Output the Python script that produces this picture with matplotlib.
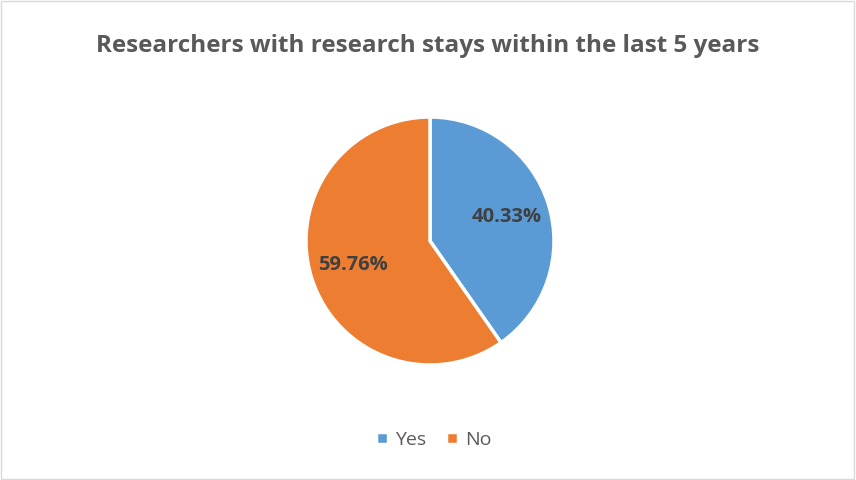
import matplotlib.pyplot as plt
from matplotlib.patches import Rectangle

labels = ["Yes", "No"]
values = [40.33, 59.76]
colors = ["#5B9BD5", "#ED7D31"]
title = "Researchers with research stays within the last 5 years"

plt.rcParams['font.family'] = ['Open Sans', 'DejaVu Sans']

fig = plt.figure(figsize=(8.56, 4.8), dpi=100)
fig.patches.append(Rectangle((0.001, 0.002), 0.997, 0.995, transform=fig.transFigure,
                             fill=False, edgecolor="#D9D9D9", linewidth=1))

ax = fig.add_axes([(430 - 124) / 856, (480 - 365) / 480, 248 / 856, 248 / 480])
wedges, texts = ax.pie(values, colors=colors, startangle=90, counterclock=False,
                       labels=[f"{v:.2f}%" for v in values], labeldistance=0.65,
                       wedgeprops=dict(edgecolor="white", linewidth=2.5),
                       textprops=dict(fontsize=14.5, fontweight="bold", color="#404040"))
for t in texts:
    t.set_horizontalalignment("center")
ax.set_xlim(-1, 1)
ax.set_ylim(-1, 1)
ax.set_aspect("equal")

fig.text(0.5, 1 - 46 / 480, title, ha="center", va="center",
         fontsize=17.5, fontweight="bold", color="#595959")

fig.legend(wedges, labels, loc="center", bbox_to_anchor=(0.5 + 6 / 856, 1 - 440 / 480),
           ncol=2, frameon=False, handlelength=0.6, handleheight=0.6,
           handletextpad=0.4, columnspacing=1.0,
           prop=dict(size=14), labelcolor="#595959")

fig.savefig("out.png", dpi=100)
